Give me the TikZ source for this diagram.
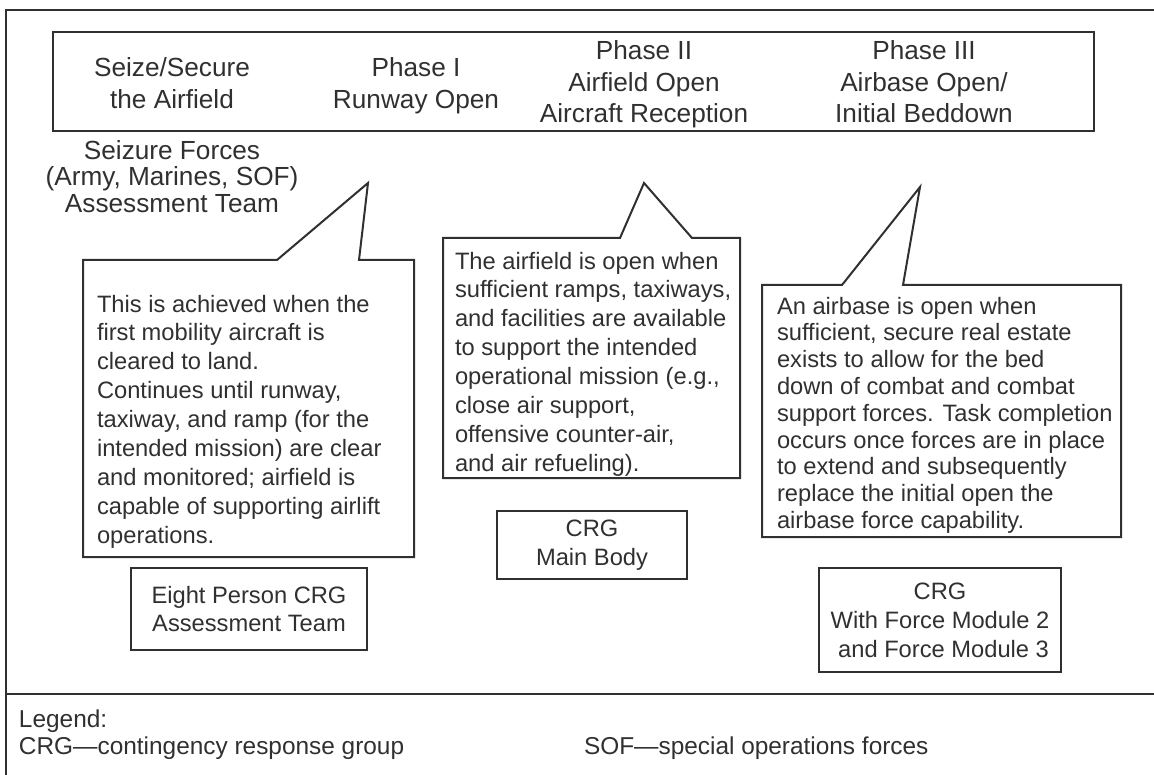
\documentclass[tikz,border=0pt]{standalone}
\usepackage{fontspec}
\setmainfont{Liberation Sans}
\definecolor{ink}{HTML}{303030}

\begin{document}
\begin{tikzpicture}[
        x=1pt, y=-1pt,
        line width=2pt,
        color=ink,
        every node/.style={inner sep=0pt},
        phase/.style={align=center, anchor=base, font=\fontsize{26.2}{31.5}\selectfont},
        notetext/.style={align=left, anchor=base west, font=\fontsize{23.7}{28.9}\selectfont},
        team/.style={draw, align=center, font=\fontsize{23.7}{28.9}\selectfont},
        legendtext/.style={anchor=base west, font=\fontsize{24.4}{27}\selectfont}
    ]
    \useasboundingbox (0,0) rectangle (1154,775);
    \draw (6,775) -- (6,10) -- (1154,10);
    \draw (6,694) -- (1154,694);

    \node[draw, minimum width=1041pt, minimum height=99pt] (header) at (573.5,81.5) {};
    \node[phase] (seize) at (172,108.5) {Seize/Secure\\the Airfield};
    \node[phase] (phase1) at (416,108.5) {Phase I\\Runway Open};
    \node[phase] (phase2) at (644,123) {Phase II\\Airfield Open\\Aircraft Reception};
    \node[phase] (phase3) at (924,123) {Phase III\\Airbase Open/\\Initial Beddown};
    \node[phase, font=\fontsize{26.2}{26.5}\selectfont] (forces) at (172,212.5) {Seizure Forces\\(Army, Marines, SOF)\\Assessment Team};

    \coordinate (tip1) at (368,183);
    \draw (277,260) -- (83,260) |- (414,557) |- (359,260) -- (tip1) -- cycle;
    \node[notetext] (runway) at (96,543.2) {This is achieved when the\\first mobility aircraft is\\cleared to land.\\Continues until runway,\\taxiway, and ramp (for the\\intended mission) are clear\\and monitored; airfield is\\capable of supporting airlift\\operations.};

    \coordinate (tip2) at (644,183);
    \draw (620,238) -- (443,238) |- (740,478) |- (692,238) -- (tip2) -- cycle;
    \node[notetext] (airfield) at (454,471.3) {The airfield is open when\\sufficient ramps, taxiways,\\and facilities are available\\to support the intended\\operational mission (e.g.,\\close air support,\\offensive counter-air,\\and air refueling).};

    \coordinate (tip3) at (920,187);
    \draw (842,285) -- (762,285) |- (1121,537) |- (903,285) -- (tip3) -- cycle;
    \node[notetext, font=\fontsize{23.7}{26.8}\selectfont] (airbase) at (776,528.4) {An airbase is open when\\sufficient, secure real estate\\exists to allow for the bed\\down of combat and combat\\support forces. Task completion\\occurs once forces are in place\\to extend and subsequently\\replace the initial open the\\airbase force capability.};

    \node[team, minimum width=236pt, minimum height=82pt] (eight) at (249,609) {Eight Person CRG\\Assessment Team};
    \node[team, minimum width=190pt, minimum height=68pt] (main) at (592,545) {CRG\\Main Body};
    \node[team, minimum width=242pt, minimum height=104pt] (module) at (940,620) {CRG\\With Force Module 2\\\hspace*{0.3em}and Force Module 3};

    \node[legendtext] (legend) at (18,727) {Legend:};
    \node[legendtext] (crg) at (18,754) {CRG—contingency response group};
    \node[legendtext] (sof) at (583,754) {SOF—special operations forces};
\end{tikzpicture}
\end{document}
